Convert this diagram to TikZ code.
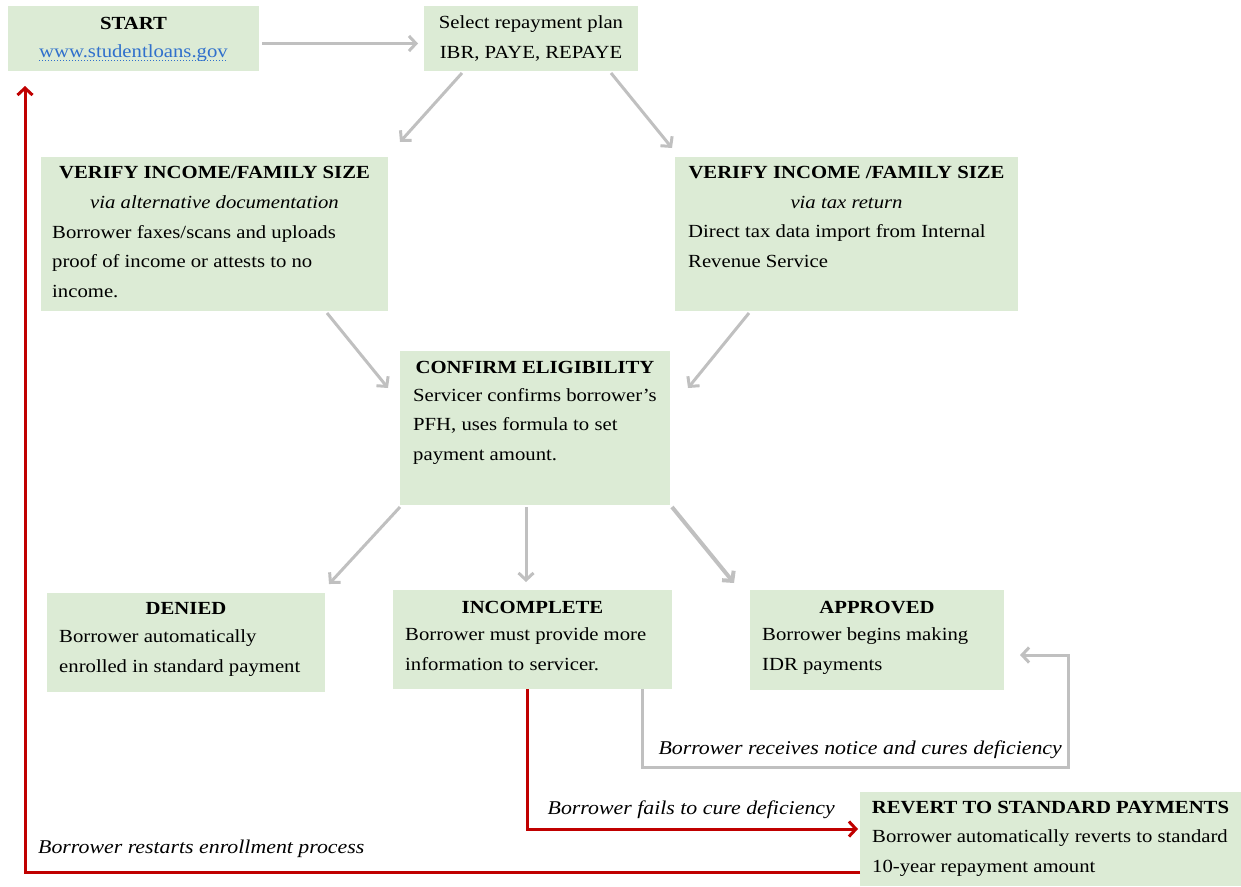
\documentclass[tikz,border=0pt]{standalone}
\usepackage{fontspec}
\setmainfont{Liberation Serif}[FakeStretch=1.12]
\usetikzlibrary{arrows.meta}

\definecolor{boxgreen}{RGB}{220,235,213}
\definecolor{arrowgray}{RGB}{192,192,192}
\definecolor{loopred}{RGB}{192,0,0}
\definecolor{linkblue}{RGB}{48,112,204}

% multi-line nodes sit on the baseline of their last line
\tikzset{
  box/.style={fill=boxgreen, anchor=north west, inner sep=0pt, outer sep=0pt},
  head/.style={anchor=base, align=center, inner sep=0pt, font=\fontsize{18.5}{29.5}\selectfont},
  body/.style={anchor=base west, align=left, inner sep=0pt, font=\fontsize{18.5}{29.5}\selectfont},
  note/.style={inner sep=0pt, font=\itshape\fontsize{19.5}{24}\selectfont},
  gline/.style={draw=arrowgray, line width=3pt, -{Straight Barb[length=7pt,width=15pt]}},
  rline/.style={draw=loopred, line width=3pt, -{Straight Barb[length=7pt,width=15pt]}},
}

\begin{document}
\begin{tikzpicture}[x=1pt, y=-1pt]
	\useasboundingbox (0,0) rectangle (1241,886);

	% boxes
	\node[box, minimum width=251pt, minimum height=65pt] (st) at (8,6) {};
	\node[box, minimum width=214pt, minimum height=65pt] (sel) at (424,6) {};
	\node[box, minimum width=347pt, minimum height=154pt] (vl) at (41,157) {};
	\node[box, minimum width=343pt, minimum height=154pt] (vr) at (675,157) {};
	\node[box, minimum width=270pt, minimum height=154pt] (cf) at (400,351) {};
	\node[box, minimum width=278pt, minimum height=99pt] (dn) at (47,593) {};
	\node[box, minimum width=279pt, minimum height=99pt] (ic) at (393,590) {};
	\node[box, minimum width=254pt, minimum height=100pt] (ap) at (750,590) {};
	\node[box, minimum width=381pt, minimum height=94pt] (rv) at (860,792) {};

	% box texts
	\node[head] (stt) at ([yshift=-23pt]st.north) {\textbf{START}};
	\node[head, text=linkblue] (url) at ([yshift=-51pt]st.north) {www.studentloans.gov};
	\draw[linkblue, dotted, line width=1pt] ([yshift=-3pt]url.base west) -- ([yshift=-3pt]url.base east);

	\node[head] (selt) at ([yshift=-52pt]sel.north) {Select repayment plan\\IBR, PAYE, REPAYE};

	\node[head] (vlt) at ([yshift=-51pt]vl.north) {\textbf{VERIFY INCOME/FAMILY SIZE}\\\textit{via alternative documentation}};
	\node[body] (vlb) at ([xshift=11pt,yshift=-140pt]vl.north west) {Borrower faxes/scans and uploads\\proof of income or attests to no\\income.};

	\node[head] (vrt) at ([yshift=-51pt]vr.north) {\textbf{VERIFY INCOME /FAMILY SIZE}\\\textit{via tax return}};
	\node[body] (vrb) at ([xshift=13pt,yshift=-110pt]vr.north west) {Direct tax data import from Internal\\Revenue Service};

	\node[head] (cft) at ([yshift=-22pt]cf.north) {\textbf{CONFIRM ELIGIBILITY}};
	\node[body] (cfb) at ([xshift=13pt,yshift=-109pt]cf.north west) {Servicer confirms borrower's\\PFH, uses formula to set\\payment amount.};

	\node[head] (dnt) at ([yshift=-21pt]dn.north) {\textbf{DENIED}};
	\node[body] (dnb) at ([xshift=12pt,yshift=-79pt]dn.north west) {Borrower automatically\\enrolled in standard payment};

	\node[head] (ict) at ([yshift=-23pt]ic.north) {\textbf{INCOMPLETE}};
	\node[body] (icb) at ([xshift=12pt,yshift=-80pt]ic.north west) {Borrower must provide more\\information to servicer.};

	\node[head] (apt) at ([yshift=-23pt]ap.north) {\textbf{APPROVED}};
	\node[body] (apb) at ([xshift=12pt,yshift=-80pt]ap.north west) {Borrower begins making\\IDR payments};

	\node[head] (rvt) at ([yshift=-21pt]rv.north) {\textbf{REVERT TO STANDARD PAYMENTS}};
	\node[body] (rvb) at ([xshift=12pt,yshift=-80pt]rv.north west) {Borrower automatically reverts to standard\\10-year repayment amount};

	% main flow
	\draw[gline] ([xshift=3pt,yshift=-5pt]st.east) -- ([xshift=-6pt,yshift=-5pt]sel.west);
	\draw[gline] ([xshift=38pt,yshift=-2pt]sel.south west) -- ([xshift=12pt,yshift=15pt]vl.north east);
	\draw[gline] ([xshift=-27pt,yshift=-2pt]sel.south east) -- ([xshift=-3pt,yshift=9pt]vr.north west);
	\draw[gline] ([xshift=-61pt,yshift=-2pt]vl.south east) -- ([xshift=-12pt,yshift=-37pt]cf.north west);
	\draw[gline] ([xshift=74pt,yshift=-2pt]vr.south west) -- ([xshift=18pt,yshift=-37pt]cf.north east);
	\draw[gline] ([yshift=-2pt]cf.south west) -- ([xshift=4pt,yshift=9pt]dn.north east);
	\draw[gline] ([xshift=126pt,yshift=-2pt]cf.south west) -- ([xshift=133pt,yshift=8pt]ic.north west);
	\draw[gline, line width=4pt] ([xshift=2pt,yshift=-2pt]cf.south east) -- ([xshift=-16pt,yshift=7pt]ap.north west);

	% loops back
	\coordinate (loopcorner) at (1068,767);
	\draw[gline] ([xshift=-30pt]ic.south east) |- (loopcorner) |- ([xshift=16pt,yshift=-15pt]ap.east);
	\node[note, anchor=base east] (lbnotice) at (1062,754) {Borrower receives notice and cures deficiency};

	\draw[rline] ([xshift=-5pt]ic.south) |- ([xshift=-2pt,yshift=10pt]rv.west);
	\node[note, anchor=base east] (lbfail) at (835,814) {Borrower fails to cure deficiency};

	\draw[rline] ([yshift=-33pt]rv.west) -| ([xshift=17pt,yshift=-15pt]st.south west);
	\node[note, anchor=base west] (lbrestart) at (38,853) {Borrower restarts enrollment process};
\end{tikzpicture}
\end{document}
